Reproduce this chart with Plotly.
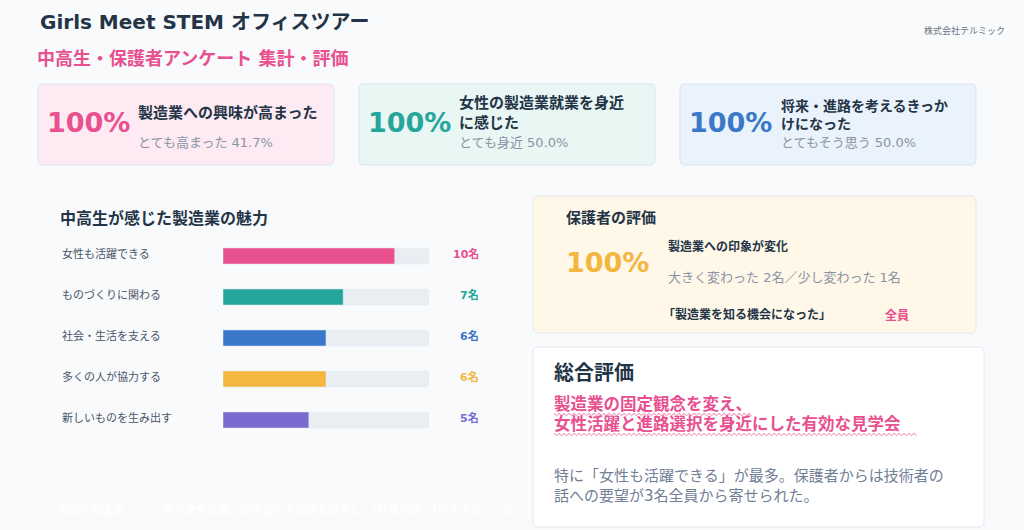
import plotly.graph_objects as go

# ---------------- data ----------------
TITLE = "Girls Meet STEM オフィスツアー"
SUBTITLE = "中高生・保護者アンケート 集計・評価"
COMPANY = "株式会社テルミック"

kpi_values = ["100%", "100%", "100%"]
kpi_titles = ["製造業への興味が高まった", "女性の製造業就業を身近<br>に感じた", "将来・進路を考えるきっか<br>けになった"]
kpi_subs = ["とても高まった 41.7%", "とても身近 50.0%", "とてもそう思う 50.0%"]

attr_title = "中高生が感じた製造業の魅力"
attr_labels = ["女性も活躍できる", "ものづくりに関わる", "社会・生活を支える", "多くの人が協力する", "新しいものを生み出す"]
attr_counts = [10, 7, 6, 6, 5]
respondents = 12

parent_title = "保護者の評価"
parent_value = "100%"
parent_head = "製造業への印象が変化"
parent_detail = "大きく変わった 2名／少し変わった 1名"
parent_quote = "「製造業を知る機会になった」"
parent_quote_val = "全員"

summary_title = "総合評価"
summary_lines = ["製造業の固定観念を変え、", "女性活躍と進路選択を身近にした有効な見学会"]
summary_note = "特に「女性も活躍できる」が最多。保護者からは技術者の<br>話への要望が3名全員から寄せられた。"

next_title = "次回への提案"
next_text = "若手女性社員・技術者との対話を増やし、「仕事内容」「学んでおくこと"

# ---------------- styles ----------------
W, H = 1024, 530
FONT = "DejaVu Sans, Noto Sans CJK JP, sans-serif"
DARK = "#243447"
GREY = "#8a94a6"
PINK = "#e8508f"
kpi_colors = ["#e8508f", "#26a69a", "#3a78c9"]
kpi_fills = ["#fdeaf2", "#e8f6f4", "#eaf2fb"]
bar_colors = ["#e8508f", "#26a69a", "#3a78c9", "#f4b63f", "#7b6bd0"]
TRACK = "#e9eef3"


def rrect(x0, y0, x1, y1, r=5):
    return (f"M{x0+r},{y0} L{x1-r},{y0} Q{x1},{y0} {x1},{y0+r} L{x1},{y1-r} Q{x1},{y1} {x1-r},{y1} "
            f"L{x0+r},{y1} Q{x0},{y1} {x0},{y1-r} L{x0},{y0+r} Q{x0},{y0} {x0+r},{y0} Z")


def zigzag(x0, x1, y, amp=1.2, step=2.5):
    pts = []
    x = x0
    i = 0
    while x <= x1:
        pts.append(f"{'M' if i == 0 else 'L'}{x:.1f},{y + (amp if i % 2 else -amp):.1f}")
        x += step
        i += 1
    return " ".join(pts)


shapes = []
ann = []


def text(x, y, s, size, color=DARK, bold=False, anchor="left", yanchor="middle"):
    ann.append(dict(x=x, y=y, xref="x", yref="y", text=f"<b>{s}</b>" if bold else s,
                    showarrow=False, xanchor=anchor, yanchor=yanchor, align="left",
                    font=dict(family=FONT, size=size, color=color)))


# header
text(38, 22, TITLE, 20, DARK, True)
text(35, 58, SUBTITLE, 18, PINK, True)
text(1007, 30, COMPANY, 9, "#6b7280", False, "right")

# KPI cards
card_x = [38, 359, 680]
title_x = [136, 457, 779]
title_y = [113, 113, 115]
for i in range(3):
    x0 = card_x[i]
    shapes.append(dict(type="path", path=rrect(x0, 84, x0 + 296, 165), xref="x", yref="y",
                       fillcolor=kpi_fills[i], line=dict(color="#dde5ec", width=1), layer="below"))
    text(x0 + 7, 122, kpi_values[i], 27, kpi_colors[i], True)
    text(title_x[i], title_y[i], kpi_titles[i], 15 if i < 2 else 14, DARK, True)
    text(title_x[i], 142, kpi_subs[i], 13, GREY)

# attractiveness section
text(58, 218, attr_title, 16, DARK, True)

# parent card
shapes.append(dict(type="path", path=rrect(533, 196, 976, 333), xref="x", yref="y",
                   fillcolor="#fff7e8", line=dict(color="#e6e8ec", width=1), layer="below"))
text(564, 218, parent_title, 15, DARK, True)
text(564, 262, parent_value, 27, "#f4b63f", True)
text(666, 246, parent_head, 12, DARK, True)
text(666, 277, parent_detail, 13, GREY)
text(661, 314, parent_quote, 12, DARK, True)
text(883, 315, parent_quote_val, 12, PINK, True)

# footer (white text)
text(55, 510, next_title, 11, "#ffffff", True)
text(161, 510, next_text, 11, "#ffffff", True)

# summary card
shapes.append(dict(type="path", path=rrect(533, 347, 984, 527), xref="x", yref="y",
                   fillcolor="#ffffff", line=dict(color="#e2e8f0", width=1), layer="below"))
text(552, 373, summary_title, 20, DARK, True)
text(552, 404, summary_lines[0], 16.5, PINK, True)
text(552, 424, summary_lines[1], 16.5, PINK, True)
shapes.append(dict(type="path", path=zigzag(554, 752, 414.5), xref="x", yref="y",
                   line=dict(color="#f07aa6", width=1)))
shapes.append(dict(type="path", path=zigzag(554, 917, 434.5), xref="x", yref="y",
                   line=dict(color="#f07aa6", width=1)))
ann.append(dict(x=552, y=486, xref="x", yref="y", text=summary_note, showarrow=False,
                xanchor="left", yanchor="middle", align="left",
                font=dict(family=FONT, size=15, color="#718096")))

# bar chart annotations (labels and values)
for lab, cnt, col in zip(attr_labels, attr_counts, bar_colors):
    ann.append(dict(x=60 / W, y=lab, xref="paper", yref="y2", text=lab, showarrow=False,
                    xanchor="left", yanchor="middle", yshift=2,
                    font=dict(family=FONT, size=11, color="#4a5568")))
    ann.append(dict(x=481 / W, y=lab, xref="paper", yref="y2", text=f"<b>{cnt}名</b>",
                    showarrow=False, xanchor="right", yanchor="middle", yshift=2,
                    font=dict(family=FONT, size=11, color=col)))

fig = go.Figure()
# invisible trace for the pixel canvas axes
fig.add_trace(go.Scatter(x=[0, W], y=[0, H], mode="markers", marker=dict(opacity=0),
                         hoverinfo="skip", showlegend=False, xaxis="x", yaxis="y"))
fig.add_trace(go.Bar(y=attr_labels, x=[respondents] * len(attr_labels), orientation="h",
                     marker=dict(color=TRACK, cornerradius=3), width=0.39,
                     hoverinfo="skip", showlegend=False, xaxis="x2", yaxis="y2"))
fig.add_trace(go.Bar(y=attr_labels, x=attr_counts, orientation="h",
                     marker=dict(color=bar_colors, cornerradius=3), width=0.39,
                     showlegend=False, xaxis="x2", yaxis="y2"))

ytop, ybot = 235.5, 440.5
fig.update_layout(
    width=W, height=H, margin=dict(l=0, r=0, t=0, b=0),
    paper_bgcolor="#f8fafc", plot_bgcolor="rgba(0,0,0,0)",
    barmode="overlay",
    xaxis=dict(range=[0, W], domain=[0, 1], visible=False, fixedrange=True),
    yaxis=dict(range=[H, 0], domain=[0, 1], visible=False, fixedrange=True),
    xaxis2=dict(range=[0, respondents], domain=[223 / W, 429 / W], visible=False,
                anchor="y2", fixedrange=True),
    yaxis2=dict(type="category", categoryarray=attr_labels, range=[4.5, -0.5],
                domain=[1 - ybot / H, 1 - ytop / H], visible=False, anchor="x2", fixedrange=True),
    shapes=shapes, annotations=ann, font=dict(family=FONT),
)
fig.write_html("out.html", config={"displayModeBar": False},
               post_script="document.body.style.margin='0';document.body.style.overflow='hidden';")
